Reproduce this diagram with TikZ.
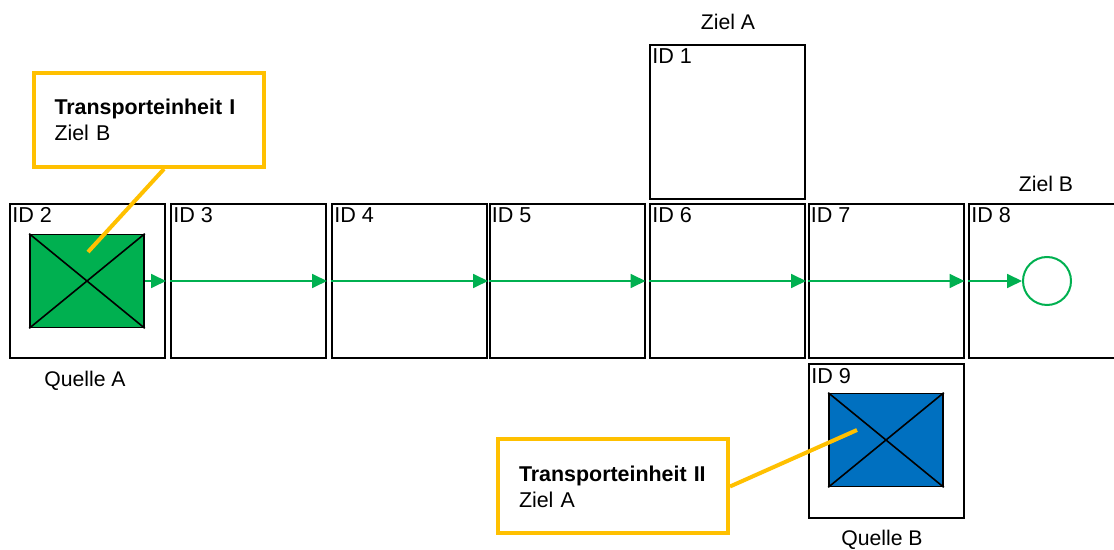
\documentclass[tikz,border=0pt]{standalone}
\usepackage{fontspec}
\setmainfont{Liberation Sans}
\usetikzlibrary{arrows.meta}

\definecolor{unitgreen}{RGB}{0,176,80}
\definecolor{unitblue}{RGB}{0,112,192}
\definecolor{calloutyellow}{RGB}{255,192,0}

\tikzset{
  cell/.style={draw, line width=1pt, minimum width=77.5pt, minimum height=77pt, inner sep=0pt},
  idlabel/.style={anchor=north west, inner xsep=1.5pt, inner ysep=2.2pt, font=\fontsize{10.8}{12}\selectfont},
  unit/.style={draw, line width=0.8pt, minimum width=57pt, minimum height=46.5pt, inner sep=0pt},
  flow/.style={draw=unitgreen, line width=0.9pt, -{Triangle[length=7.5pt,width=7pt]}},
  callout/.style={draw=calloutyellow, line width=2pt, text width=94pt, inner xsep=10.5pt,
    minimum height=47pt, align=left, font=\fontsize{10.7}{13}\selectfont},
  pointer/.style={draw=calloutyellow, line width=2pt},
  caption/.style={font=\fontsize{10.6}{12}\selectfont},
}

\begin{document}
\begin{tikzpicture}[x=0.5pt, y=-0.5pt]
  \useasboundingbox (0,0) rectangle (1114,550);

  % conveyor cells
  \node[cell] (c1) at (727.5,122) {};
  \node[cell] (c2) at (87.5,281) {};
  \node[cell] (c3) at (248.5,281) {};
  \node[cell] (c4) at (409.5,281) {};
  \node[cell] (c5) at (567,281) {};
  \node[cell] (c6) at (727.5,281) {};
  \node[cell] (c7) at (886,281) {};
  \node[cell] (c8) at (1046.5,281) {};
  \node[cell] (c9) at (886.5,441.5) {};
  \foreach \n in {1,...,9}
    \node[idlabel] at (c\n.north west) {ID \n};

  % sources and targets
  \node[caption] (zielA) at (728,22) {Ziel A};
  \node[caption] (zielB) at (1046,184) {Ziel B};
  \node[caption] (quelleA) at (85,381) {Quelle A};
  \node[caption] (quelleB) at (882,540) {Quelle B};

  % transport units
  \node[unit, fill=unitgreen] (unitI) at (87,281) {};
  \node[unit, fill=unitblue] (unitII) at (886,440) {};
  \foreach \u in {unitI,unitII} {
    \draw[line width=0.8pt] (\u.north west) -- (\u.south east);
    \draw[line width=0.8pt] (\u.south west) -- (\u.north east);
  }

  % route of unit I
  \node[draw=unitgreen, line width=1pt, circle, minimum size=24pt, inner sep=0pt] (goal) at (1047,281) {};
  \draw[flow] (unitI.east) -- (c2.east);
  \foreach \n in {3,...,7}
    \draw[flow] (c\n.west) -- (c\n.east);
  \draw[flow] (c8.west) -- (goal.west);

  % callouts
  \node[callout] (callI) at (148.5,120) {\textbf{Transporteinheit I}\\Ziel B};
  \node[callout] (callII) at (613,486.5) {\textbf{Transporteinheit II}\\Ziel A};
  \coordinate (tipI) at (88,252);
  \coordinate (tipII) at (857,430);
  \draw[pointer] ([xshift=7.75pt]callI.south) -- (tipI);
  \draw[pointer] (callII.east) -- (tipII);
\end{tikzpicture}
\end{document}
